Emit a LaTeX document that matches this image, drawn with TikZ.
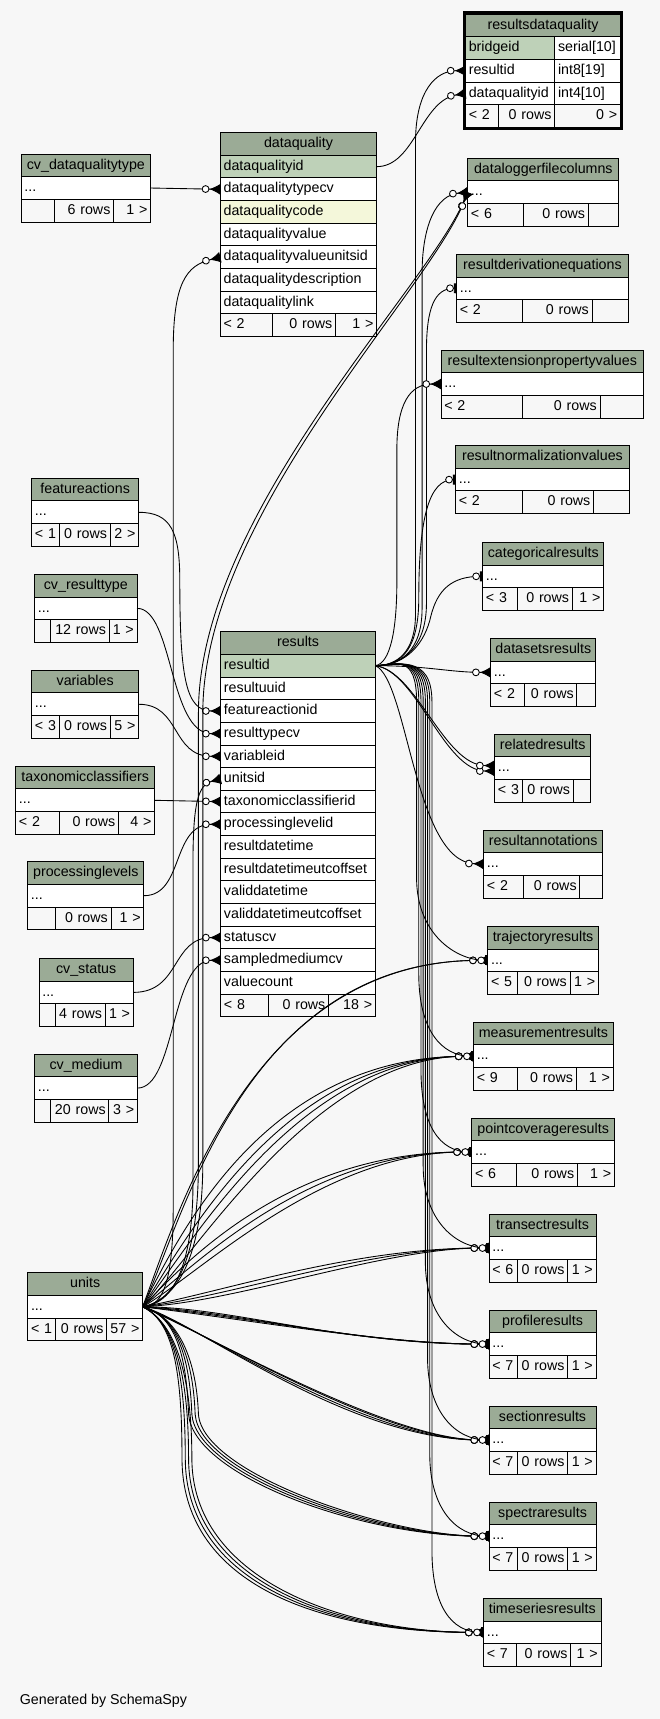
\documentclass[tikz,border=0pt]{standalone}
\usepackage{fontspec}
\setmainfont{Liberation Sans}
\usetikzlibrary{arrows.meta}
\definecolor{canvas}{HTML}{F7F7F7}
\definecolor{head}{HTML}{9BAB96}
\definecolor{keyed}{HTML}{BED1B8}
\definecolor{indexed}{HTML}{F4F7DA}

\begin{document}
\begin{tikzpicture}[x=1pt,y=-1pt,font=\fontsize{13}{15}\selectfont,
cell/.style={draw,line width=0.9pt,outer sep=0pt,inner xsep=3pt,inner ysep=0pt,minimum height=20.67pt,text height=9.4pt,text depth=2.7pt,anchor=north west},
hdr/.style={cell,fill=head,align=center,inner xsep=1pt},
row/.style={cell,fill=white,align=left},
ftr/.style={cell,fill=canvas,align=left},
fk/.style={line width=0.8pt,-{Circle[length=7pt,width=7pt,fill=white] Latex[reversed,length=10pt,width=10pt]}},
one/.style={line width=0.8pt,-{Circle[length=7pt,width=7pt,fill=white] Rectangle[length=2.5pt,width=9pt]}}]
\fill[canvas] (0,0) rectangle (602,1568);
\useasboundingbox (0,0) rectangle (602,1568);

% collapsed tables: header, "..." row, footer
\foreach \nm/\ttl/\xl/\xr/\yt/\sa/\sb/\ta/\tb/\tc in {
 cvdqt/cv\_dataqualitytype/19.2/137.5/140.5/49.9/103.7//6~rows/1~>,
 dlfc/dataloggerfilecolumns/426.6/564.6/144.4/477.7/536.7/<~6/0~rows/,
 rde/resultderivationequations/416.5/573.1/232/477/540/<~2/0~rows/,
 repv/resultextensionpropertyvalues/402.3/587/319.3/476.8/547.3/<~2/0~rows/,
 rnv/resultnormalizationvalues/415.6/574/406.5/476.8/541.5/<~2/0~rows/,
 catres/categoricalresults/440.3/550.7/494.7/471.9/522.1/<~3/0~rows/1~>,
 dsr/datasetsresults/447.6/543.6/582.3/478/526.3/<~2/0~rows/,
 relres/relatedresults/451.2/538.8/669.8/476.5/523/<~3/0~rows/,
 resann/resultannotations/441.2/549.8/757.1/477.7/529/<~2/0~rows/,
 traj/trajectoryresults/444.9/545.8/845/471.6/520/<~5/0~rows/1~>,
 meas/measurementresults/431.9/559.4/932.5/471.9/525.6/<~9/0~rows/1~>,
 ptcov/pointcoverageresults/430.4/560.5/1019.8/471.4/526.7/<~6/0~rows/1~>,
 trans/transectresults/446.1/543.7/1107.4/471.9/517.9/<~6/0~rows/1~>,
 prof/profileresults/446.1/543.7/1195/471.9/517.9/<~7/0~rows/1~>,
 sect/sectionresults/446.1/543.7/1282.5/471.9/517.9/<~7/0~rows/1~>,
 spec/spectraresults/446.1/543.7/1370.2/471.9/517.9/<~7/0~rows/1~>,
 tser/timeseriesresults/441.1/548.2/1458/471.4/520.6/<~7/0~rows/1~>,
 feat/featureactions/28.9/126.5/436.3/54.7/100.6/<~1/0~rows/2~>,
 cvrt/cv\_resulttype/31.6/125/523.9/46.5/99.7//12~rows/1~>,
 vars/variables/28.9/126.5/611.4/54.7/100.6/<~3/0~rows/5~>,
 taxo/taxonomicclassifiers/14.3/141.1/699/54.7/108.2/<~2/0~rows/4~>,
 proc/processinglevels/25.2/131.3/786/50.2/101.3//0~rows/1~>,
 cvst/cv\_status/35.6/121.6/874.2/50.2/96//4~rows/1~>,
 cvmed/cv\_medium/31.6/125.3/961.5/46.5/99.4//20~rows/3~>,
 units/units/25.3/130.1/1161/50.7/97.5/<~1/0~rows/57~>}{
 \pgfmathsetmacro\wh{\xr-\xl-2}
 \pgfmathsetmacro\w{\xr-\xl-6}
 \pgfmathsetmacro\wa{\sa-\xl-6}
 \pgfmathsetmacro\wb{\sb-\sa-6}
 \pgfmathsetmacro\wc{\xr-\sb-6}
 \node[hdr,text width=\wh pt] (\nm-h) at (\xl,\yt) {\ttl};
 \node[row,text width=\w pt] (\nm) at (\nm-h.south west) {...};
 \node[ftr,text width=\wa pt] (\nm-a) at (\nm.south west) {\ta};
 \node[ftr,text width=\wb pt,align=right] (\nm-b) at (\nm-a.north east) {\tb};
 \node[ftr,text width=\wc pt,align=right] (\nm-c) at (\nm-b.north east) {\tc};
}

% results
\node[hdr,text width=139.1pt] (res-h) at (201.3,576.2) {results};
\foreach \fld/\fc [count=\i] in {resultid/keyed,resultuuid/white,featureactionid/white,resulttypecv/white,variableid/white,unitsid/white,taxonomicclassifierid/white,processinglevelid/white,resultdatetime/white,resultdatetimeutcoffset/white,validdatetime/white,validdatetimeutcoffset/white,statuscv/white,sampledmediumcv/white,valuecount/white}
 \node[row,fill=\fc,text width=135.1pt] (res-\fld) at (201.3,{576.2+\i*20.67}) {\fld};
\node[ftr,text width=37.7pt] (res-a) at (201.3,906.9) {<~8};
\node[ftr,text width=48.8pt,align=right] (res-b) at (res-a.north east) {0~rows};
\node[ftr,text width=36.6pt,align=right] (res-c) at (res-b.north east) {18~>};

% dataquality
\node[hdr,text width=140.6pt] (dq-h) at (201,121) {dataquality};
\foreach \fld/\fc [count=\i] in {dataqualityid/keyed,dataqualitytypecv/white,dataqualitycode/indexed,dataqualityvalue/white,dataqualityvalueunitsid/white,dataqualitydescription/white,dataqualitylink/white}
 \node[row,fill=\fc,text width=136.6pt] (dq-\fld) at (201,{121+\i*20.67}) {\fld};
\node[ftr,text width=41.8pt] (dq-a) at (201,286.4) {<~2};
\node[ftr,text width=51.2pt,align=right] (dq-b) at (dq-a.north east) {0~rows};
\node[ftr,text width=31.6pt,align=right] (dq-c) at (dq-b.north east) {1~>};

% resultsdataquality (focus)
\node[hdr,text width=139.4pt] (rdq-h) at (424.6,12.8) {resultsdataquality};
\foreach \fld/\typ/\fc [count=\i] in {bridgeid/serial[10]/keyed,resultid/int8[19]/white,dataqualityid/int4[10]/white}{
 \node[row,fill=\fc,text width=75.4pt] (rdq-\fld) at (424.6,{12.8+\i*20.67}) {\fld};
 \node[row,text width=54pt] (rdq-\fld-t) at (rdq-\fld.north east) {\typ};
}
\node[ftr,text width=23.9pt] (rdq-a) at (424.6,95.5) {<~2};
\node[ftr,text width=45.5pt,align=right] (rdq-b) at (rdq-a.north east) {0~rows};
\node[ftr,text width=54pt,align=right] (rdq-c) at (rdq-b.north east) {0~>};
\draw[line width=2.4pt] ([shift={(-1.2,-1.2)}]rdq-h.north west) rectangle ([shift={(1.2,1.2)}]rdq-c.south east);

\node[anchor=west] (credit) at (14.6,1551) {Generated by SchemaSpy};

% lookups into results and dataquality
\draw[fk] (cvdqt.east) -- (dq-dataqualitytypecv.west);
\draw[fk] (feat.east) .. controls (156,467.3) and (164,485) .. (164,530) .. controls (164,620) and (170,648.5) .. (res-featureactionid.west);
\draw[fk] (cvrt.east) .. controls (158,554.9) and (154,669.2) .. (res-resulttypecv.west);
\draw[fk] (vars.east) .. controls (165,642.4) and (156,689.8) .. (res-variableid.west);
\draw[fk] (taxo.east) -- (res-taxonomicclassifierid.west);
\draw[fk] (proc.east) .. controls (168,817) and (156,751.8) .. (res-processinglevelid.west);
\draw[fk] (cvst.east) .. controls (165,905.2) and (156,855.2) .. (res-statuscv.west);
\draw[fk] (cvmed.east) .. controls (160,992.5) and (156,875.9) .. (res-sampledmediumcv.west);

% units
\draw[fk] (units.east) .. controls (150,1192) and (158,1165) .. (158,1100) -- (158,320) .. controls (158,258) and (170,242) .. (dq-dataqualityvalueunitsid.west);
\draw[fk] (units.east) .. controls (155,1190) and (176,1160) .. (176,1080) -- (176,790) .. controls (176,735) and (180,716) .. (res-unitsid.west);
\foreach \dx in {0,4}
 \draw[fk] (units.east) .. controls (160,1186) and ({181+\dx},1150) .. ({181+\dx},1060) -- ({181+\dx},650) .. controls ({181+\dx},470) and ({388+\dx},265) .. (dlfc.west);
\foreach \tgt/\ax/\ay/\off in {traj/163/1105/215,traj/167/1115/223,
 meas/166/1120/187,meas/170/1130/174,meas/172/1140/162,meas/176/1150/147,
 ptcov/172/1148/165,ptcov/176/1156/152,ptcov/180/1164/138,
 trans/205/1178/126,trans/210/1183/111,trans/216/1188/96,
 prof/210/1192/136,prof/215/1196/121,prof/222/1200/106,prof/228/1204/94,
 sect/178/1205/131,sect/182/1210/116,sect/188/1215/101,sect/194/1220/91}
 \draw[fk] (units.east) .. controls (\ax,\ay) and ([xshift=-\off pt]\tgt.west) .. (\tgt.west);
\foreach \dx/\off in {0/120,3/110,6/100,9/90}
 \draw[fk] (units.east) .. controls (160,1200) and ({170+\dx},1235) .. ({172+\dx},1290) .. controls ({176+\dx},1345) and ([xshift=-\off pt]spec.west) .. (spec.west);
\foreach \dx/\off in {0/160,3/150,6/140,9/130}
 \draw[fk] (units.east) .. controls (158,1205) and ({166+\dx},1250) .. ({166+\dx},1330) .. controls ({166+\dx},1440) and ([xshift=-\off pt]tser.west) .. (tser.west);

% results.resultid
\draw[fk] (res-resultid.east) .. controls (362,607.2) and (379,595) .. (379,560) -- (379,130) .. controls (379,82) and (398,64.5) .. (rdq-resultid.west);
\draw[fk] (dq-dataqualityid.east) .. controls (378,152) and (384,92) .. (rdq-dataqualityid.west);
\draw[fk] (res-resultid.east) .. controls (364,607.2) and (385,595) .. (385,555) -- (385,250) .. controls (385,205) and (398,178) .. (dlfc.west);
\draw[one] (res-resultid.east) .. controls (366,607.2) and (389,592) .. (389,550) -- (389,320) .. controls (389,282) and (396,262.7) .. (rde.west);
\draw[fk] (res-resultid.east) .. controls (356,605) and (362,575) .. (362,530) -- (362,410) .. controls (362,368) and (374,350.3) .. (repv.west);
\draw[one] (res-resultid.east) .. controls (368,607.2) and (382,590) .. (382,545) .. controls (382,470) and (392,437.5) .. (rnv.west);
\draw[one] (res-resultid.east) .. controls (372,607.2) and (388,585) .. (393,562) .. controls (399,538) and (412,525.7) .. (catres.west);
\draw[fk] (res-resultid.east) .. controls (390,607.2) and (410,613.3) .. (dsr.west);
\foreach \dy in {-2.5,2.5}
 \draw[fk] (res-resultid.east) .. controls (380,612) and (405,{700.8-\dy}) .. ([yshift=\dy pt]relres.west);
\draw[fk] (res-resultid.east) .. controls (372,620) and (378,786) .. (resann.west);
\foreach \tgt/\xv/\ty in {traj/380/876,meas/382/963.5,ptcov/384/1050.8,trans/386/1138.4,prof/388/1226,sect/390/1313.5,spec/392/1401.2,tser/394/1489}
 \draw[one] (res-resultid.east) .. controls (360,607.2) and (\xv,595) .. (\xv,640) -- (\xv,{\ty-75}) .. controls (\xv,{\ty-25}) and ([xshift=-30pt]\tgt.west) .. (\tgt.west);
\end{tikzpicture}
\end{document}
